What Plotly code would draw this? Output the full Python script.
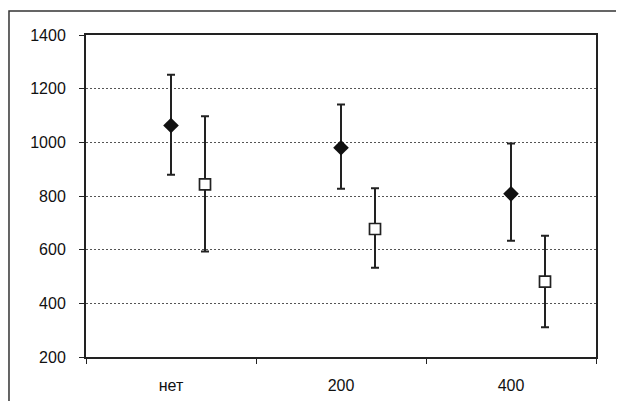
import plotly.graph_objects as go

categories = ["нет", "200", "400"]
diamond_mean = [1063, 980, 808]
diamond_upper = [1252, 1141, 996]
diamond_lower = [879, 827, 633]
square_mean = [843, 677, 481]
square_upper = [1097, 829, 652]
square_lower = [593, 533, 311]
y_ticks = [200, 400, 600, 800, 1000, 1200, 1400]

idx = list(range(len(categories)))
fig = go.Figure()

fig.add_trace(go.Scatter(
    x=[i for i in idx], y=diamond_mean, mode="markers",
    marker=dict(symbol="diamond", size=12, color="#111111", line=dict(width=0)),
    error_y=dict(type="data", symmetric=False,
                 array=[u - m for u, m in zip(diamond_upper, diamond_mean)],
                 arrayminus=[m - l for m, l in zip(diamond_mean, diamond_lower)],
                 color="#222222", thickness=2, width=4),
    showlegend=False))

fig.add_trace(go.Scatter(
    x=[i + 0.2 for i in idx], y=square_mean, mode="markers",
    marker=dict(symbol="square", size=11, color="white", line=dict(width=1.7, color="#222222")),
    error_y=dict(type="data", symmetric=False,
                 array=[u - m for u, m in zip(square_upper, square_mean)],
                 arrayminus=[m - l for m, l in zip(square_mean, square_lower)],
                 color="#222222", thickness=2, width=4),
    showlegend=False))

# invisible trace to activate boundary tick axis
fig.add_trace(go.Scatter(x=[None], y=[None], xaxis="x2", showlegend=False))

font = dict(family="Liberation Sans, Arial, sans-serif", size=16, color="#111111")

fig.update_layout(
    width=624, height=401,
    margin=dict(l=78, r=36, t=27, b=52),
    paper_bgcolor="white", plot_bgcolor="white",
    font=font,
    xaxis=dict(range=[-0.5, 2.5], tickvals=idx, ticktext=categories,
               ticks="", showgrid=False, zeroline=False,
               showline=True, linecolor="#222222", linewidth=2, mirror=True,
               ticklabelstandoff=13, tickfont=font),
    xaxis2=dict(range=[-0.5, 2.5], overlaying="x", side="bottom",
                tickvals=[-0.5, 0.5, 1.5, 2.5], showticklabels=False,
                ticks="outside", ticklen=6, tickwidth=1.2, tickcolor="#222222",
                showgrid=False, zeroline=False, showline=False),
    yaxis=dict(range=[200, 1400], tickvals=y_ticks,
               ticks="outside", ticklen=5, tickwidth=1.2, tickcolor="#222222",
               showgrid=True, gridcolor="#555555", gridwidth=1, griddash="2px,2px",
               zeroline=False, showline=True, linecolor="#222222", linewidth=2,
               mirror=True, tickfont=font, ticklabelstandoff=10),
    shapes=[dict(type="rect", xref="paper", yref="paper",
                 x0=-0.151, x1=1.3, y0=-0.4, y1=1.0745,
                 line=dict(color="#333333", width=1.5), layer="below")],
)

fig.write_html("out.html")
